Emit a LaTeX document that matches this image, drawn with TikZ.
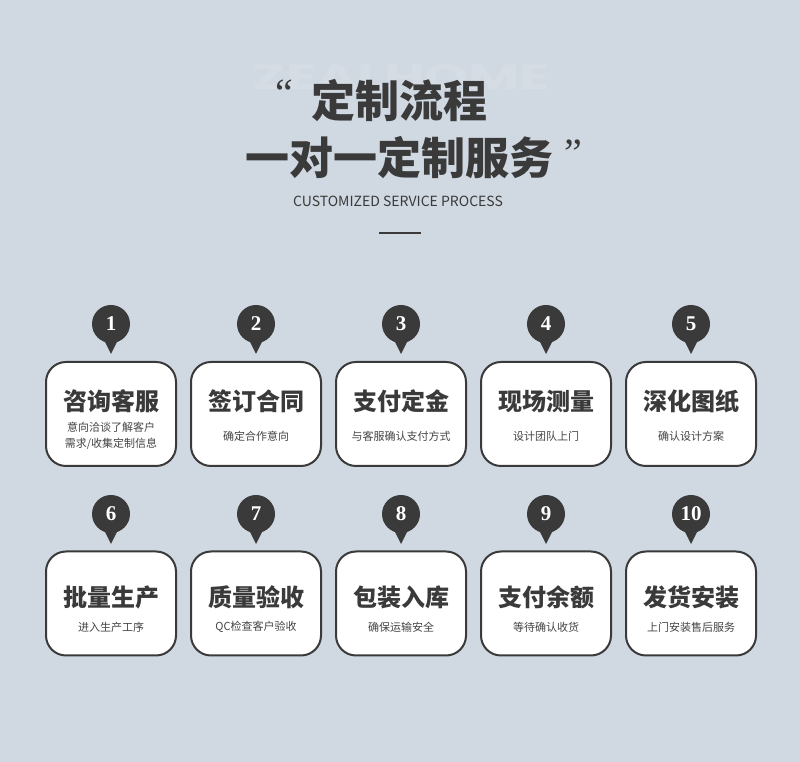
\documentclass[tikz,border=0pt]{standalone}
\usepackage{fontspec}
\usepackage{graphicx}
\newfontfamily\cjk{Noto Sans CJK SC}
\newfontfamily\numfont{Liberation Serif}
\newfontfamily\markfont{Poppins}
\usepackage{tikz}
\usetikzlibrary{calc}

\definecolor{sfondo}{RGB}{208,216,225}
\definecolor{filigrana}{RGB}{213,220,228}
\definecolor{inchiostro}{RGB}{58,58,58}
\definecolor{grigio}{RGB}{68,68,68}

\tikzset{
  cerchio/.style={circle, fill=inchiostro, minimum size=38pt, inner sep=0pt,
    text=white, font=\numfont\bfseries\fontsize{21}{21}\selectfont},
  scheda/.style={draw=inchiostro, line width=2pt, fill=white, rounded corners=20pt,
    minimum width=130pt, minimum height=104pt},
  titolo/.style={text=inchiostro, font=\cjk\bfseries\fontsize{24}{24}\selectfont},
  testo/.style={text=grigio, align=center, font=\cjk\fontsize{11}{16}\selectfont},
  virgolette/.style={text=inchiostro, anchor=base, inner sep=0pt,
    font=\numfont\fontsize{40}{40}\selectfont},
}

\begin{document}
\begin{tikzpicture}[x=1pt, y=1pt]
    % sfondo
    \fill[sfondo] (0,0) rectangle (800,762);
    \useasboundingbox (0,0) rectangle (800,762);

    % filigrana
    \node[text=filigrana, inner sep=0pt] (marchio) at (401.5,684.5)
      {\resizebox{297pt}{25pt}{\markfont\bfseries ZEALHOME}};

    % titolo
    \node[text=inchiostro, font=\cjk\bfseries\fontsize{44}{44}\selectfont] (riga1) at (399,661) {定制流程};
    \node[text=inchiostro, font=\cjk\bfseries\fontsize{44}{44}\selectfont] (riga2) at (399,604) {一对一定制服务};
    \node[virgolette] (apri) at (284.5,655) {“};
    \node[virgolette] (chiudi) at (573.5,595) {”};
    \node[text=inchiostro, font=\cjk\fontsize{14}{14}\selectfont] (sotto) at (398,561) {CUSTOMIZED SERVICE PROCESS};

    % trattino
    \coordinate (t1) at (379,529);
    \coordinate (t2) at (421,529);
    \draw[inchiostro, line width=2pt] (t1) -- (t2);

    % passi
    \foreach \n/\x/\yc/\ys/\yt/\yd/\nome/\testo in {
        1/111/438/348/361/326/咨询客服/{意向洽谈了解客户\\需求/收集定制信息},
        2/256/438/348/361/326/签订合同/确定合作意向,
        3/401/438/348/361/326/支付定金/与客服确认支付方式,
        4/546/438/348/361/326/现场测量/设计团队上门,
        5/691/438/348/361/326/深化图纸/确认设计方案,
        6/111/248/158.5/165/135/批量生产/进入生产工序,
        7/256/248/158.5/165/135/质量验收/QC检查客户验收,
        8/401/248/158.5/165/135/包装入库/确保运输安全,
        9/546/248/158.5/165/135/支付余额/等待确认收货,
        10/691/248/158.5/165/135/发货安装/上门安装售后服务} {
      \node[scheda] (s\n) at (\x,\ys) {};
      \node[titolo] (h\n) at (\x,\yt) {\nome};
      \node[testo] (d\n) at (\x,\yd) {\testo};
      \node[cerchio] (c\n) at (\x,\yc) {\n};
      \fill[inchiostro] ($(c\n)+(-7,-16)$) -- ($(c\n)+(7,-16)$) -- ($(c\n)+(0,-30)$) -- cycle;
    }
\end{tikzpicture}
\end{document}
